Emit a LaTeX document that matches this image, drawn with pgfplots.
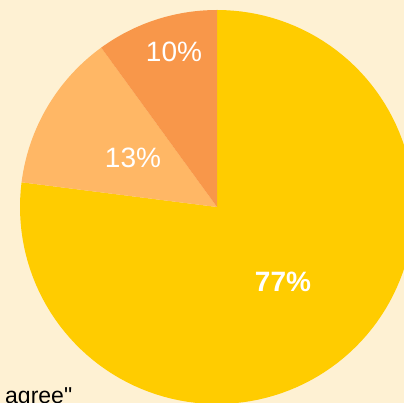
\documentclass[border=0pt]{standalone}
\usepackage{pgfplots}
\usepackage{pgfplotstable}
\pgfplotsset{compat=1.18}
\usepackage{fontspec}
\setmainfont{Liberation Sans}
\newfontfamily\plainsans{Liberation Sans}[Ligatures=TeXOff]
\definecolor{bg}{HTML}{FEF1D3}
\definecolor{cYellow}{HTML}{FFCC00}
\definecolor{cLight}{HTML}{FFB765}
\definecolor{cOrange}{HTML}{F8974A}
\pgfplotstableread{
label value
Agree 77
Neutral 13
Disagree 10
}\piedata
\pgfplotstablegetelem{0}{value}\of\piedata \let\va\pgfplotsretval
\pgfplotstablegetelem{1}{value}\of\piedata \let\vb\pgfplotsretval
\pgfplotstablegetelem{2}{value}\of\piedata \let\vc\pgfplotsretval
\pgfmathsetmacro{\aA}{90}
\pgfmathsetmacro{\aB}{90-3.6*\va}
\pgfmathsetmacro{\aC}{\aB-3.6*\vb}
\pgfmathsetmacro{\aD}{\aC-3.6*\vc}
\begin{document}
\begin{tikzpicture}
\path[use as bounding box] (0,0) rectangle (404pt,403pt);
\clip (0,0) rectangle (404pt,403pt);
\fill[bg] (0,0) rectangle (404pt,403pt);
\begin{axis}[at={(0,0)}, anchor=origin, x=1pt, y=1pt,
  xmin=0, xmax=404, ymin=0, ymax=403, hide axis, clip=false]
\addplot[fill=cYellow, draw=none, domain=\aB:\aA, samples=120] ({217+197*cos(x)},{196+197*sin(x)}) -- (axis cs:217,196) -- cycle;
\addplot[fill=cLight, draw=none, domain=\aC:\aB, samples=30] ({217+197*cos(x)},{196+197*sin(x)}) -- (axis cs:217,196) -- cycle;
\addplot[fill=cOrange, draw=none, domain=\aD:\aC, samples=30] ({217+197*cos(x)},{196+197*sin(x)}) -- (axis cs:217,196) -- cycle;
\node[white, font=\fontsize{28}{32}\selectfont\bfseries] at (axis cs:283,121.5) {\va\%};
\node[white, font=\fontsize{28}{32}\selectfont] at (axis cs:133,245) {\vb\%};
\node[white, font=\fontsize{28}{32}\selectfont] at (axis cs:174,351) {\vc\%};
\end{axis}
\node[anchor=base west, inner sep=0pt, text=black, font=\plainsans\fontsize{23}{27}\selectfont] at (5pt,-1pt) {agree"};
\end{tikzpicture}
\end{document}
